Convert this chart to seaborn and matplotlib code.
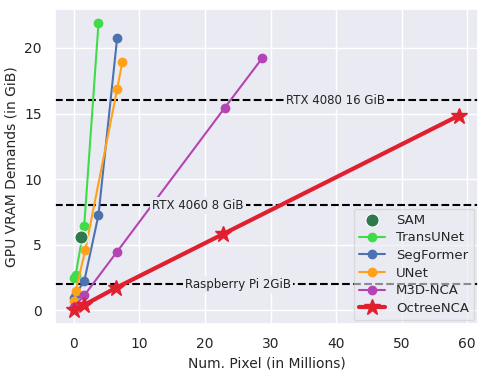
import numpy as np
import pandas as pd
import matplotlib
matplotlib.use("Agg")
import matplotlib.pyplot as plt
import seaborn as sns

# Datos (x: millones de píxeles, y: GiB)
sam_x = [1.07]
sam_y = [5.63]

transunet_x = [0.07, 0.26, 1.57, 3.75]
transunet_y = [2.45, 2.7, 6.44, 21.87]

segformer_x = [0.07, 0.26, 1.57, 3.75, 6.6]
segformer_y = [0.95, 1.25, 2.22, 7.27, 20.78]

unet_x = [0.07, 0.26, 1.72, 6.6, 7.4]
unet_y = [0.7, 1.46, 4.57, 16.87, 18.96]

m3dnca_x = [0.07, 1.57, 6.5, 23.0, 28.7]
m3dnca_y = [0.3, 1.14, 4.42, 15.43, 19.2]

octree_x = [0.07, 1.5, 6.4, 22.8, 58.75]
octree_y = [0.05, 0.4, 1.72, 5.83, 14.85]

gpu_limits = [16, 8, 2]
gpu_names = ["RTX 4080 16 GiB", "RTX 4060 8 GiB", "Raspberry Pi 2GiB"]
gpu_label_x = [39.9, 18.9, 25.0]

sns.set_theme(style="darkgrid")
plt.rcParams['font.size'] = 10

fig, ax = plt.subplots(figsize=(4.88, 3.76), dpi=100)

series = [
    ("TransUNet", transunet_x, transunet_y, "#3fdc4a", "o", 1.5, 6),
    ("SegFormer", segformer_x, segformer_y, "#4c72b0", "o", 1.5, 6),
    ("UNet", unet_x, unet_y, "#ffa21a", "o", 1.5, 6),
    ("M3D-NCA", m3dnca_x, m3dnca_y, "#b443b4", "o", 1.5, 6),
    ("OctreeNCA", octree_x, octree_y, "#e0202f", "*", 3, 12),
]

sns.scatterplot(x=sam_x, y=sam_y, ax=ax, s=90, color="#2e7a4e", label="SAM",
                edgecolor="white", linewidth=0.8, zorder=5)
for name, xs, ys, col, mk, lw, ms in series:
    ax.plot(xs, ys, marker=mk, color=col, lw=lw, markersize=ms, label=name)

for lim, name, lx in zip(gpu_limits, gpu_names, gpu_label_x):
    ax.axhline(lim, color="black", ls="--", lw=1.5, zorder=1)
    ax.text(lx, lim, name, ha="center", va="center", fontsize=8.5, color="#222222",
            bbox=dict(facecolor="#EAEAF2", edgecolor="none", pad=1.5), zorder=2)

ax.set_xlabel("Num. Pixel (in Millions)", fontsize=10)
ax.set_ylabel("GPU VRAM Demands (in GiB)", fontsize=10)
ax.set_xticks([0, 10, 20, 30, 40, 50, 60])
ax.set_yticks([0, 5, 10, 15, 20])
ax.tick_params(labelsize=10)
ax.legend(loc="lower right", fontsize=9.5, framealpha=0.6, borderaxespad=0.3,
          labelspacing=0.35)

fig.subplots_adjust(left=0.113, right=0.98, bottom=0.138, top=0.976)
plt.savefig("out.png", dpi=100)
